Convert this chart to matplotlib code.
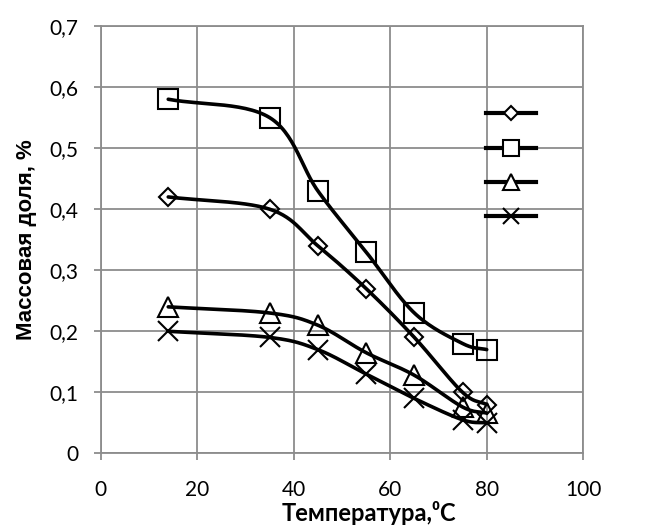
import numpy as np
import matplotlib
matplotlib.use("Agg")
import matplotlib.pyplot as plt
from matplotlib.lines import Line2D

temps = [14, 35, 45, 55, 65, 75, 80]
s_diamond = [0.42, 0.40, 0.34, 0.27, 0.19, 0.10, 0.08]
s_square = [0.58, 0.55, 0.43, 0.33, 0.23, 0.18, 0.17]
s_triangle = [0.24, 0.23, 0.21, 0.165, 0.128, 0.076, 0.066]
s_cross = [0.20, 0.19, 0.17, 0.13, 0.09, 0.055, 0.05]

x_ticks = [0, 20, 40, 60, 80, 100]
y_ticks = [0, 0.1, 0.2, 0.3, 0.4, 0.5, 0.6, 0.7]
x_label = "Температура,⁰C"
y_label = "Массовая доля, %"


def smooth(x, y, n=30):
    x = np.asarray(x, float); y = np.asarray(y, float)
    px = np.concatenate([[2 * x[0] - x[1]], x, [2 * x[-1] - x[-2]]])
    py = np.concatenate([[2 * y[0] - y[1]], y, [2 * y[-1] - y[-2]]])
    xs, ys = [], []
    t = np.linspace(0, 1, n)
    for i in range(1, len(px) - 2):
        p0, p1, p2, p3 = (np.array([px[j], py[j]]) for j in range(i - 1, i + 3))
        c1 = p1 + (p2 - p0) / 6
        c2 = p2 - (p3 - p1) / 6
        b = ((1 - t) ** 3)[:, None] * p1 + (3 * (1 - t) ** 2 * t)[:, None] * c1 \
            + (3 * (1 - t) * t ** 2)[:, None] * c2 + (t ** 3)[:, None] * p2
        xs.extend(b[:, 0]); ys.extend(b[:, 1])
    return xs, ys


fig = plt.figure(figsize=(6.59, 5.26), dpi=100)
ax = fig.add_axes([0.1528, 0.138, 0.7322, 0.8126])

series = [(s_diamond, 'D', 9), (s_square, 's', 15), (s_triangle, '^', 15), (s_cross, 'x', 14)]
handles = []
for vals, mk, ms in series:
    sx, sy = smooth(temps, vals)
    ax.plot(sx, sy, color='black', lw=2.6, zorder=3, solid_capstyle='round')
    ax.plot(temps, vals, linestyle='none', marker=mk, markersize=ms,
            markerfacecolor='none', markeredgecolor='black', markeredgewidth=1.5, zorder=4)
    handles.append(Line2D([], [], color='black', lw=3, marker=mk,
                          markersize=ms * 0.8,
                          markerfacecolor='white', markeredgecolor='black', markeredgewidth=1.5))

ax.set_xlim(0, 100)
ax.set_ylim(0, 0.7)
ax.set_xticks(x_ticks)
ax.set_yticks(y_ticks)
ax.set_xticklabels([str(v) for v in x_ticks])
ax.set_yticklabels(['0' if v == 0 else f"{v:.1f}".replace('.', ',') for v in y_ticks])
for lab in ax.get_xticklabels() + ax.get_yticklabels():
    lab.set_fontfamily(['Lato', 'DejaVu Sans'])
    lab.set_fontsize(15)

ax.grid(True, color='#8c8c8c', lw=1.3)
ax.set_axisbelow(True)
for sp in ax.spines.values():
    sp.set_color('#8c8c8c')
    sp.set_linewidth(1.3)
ax.tick_params(axis='both', direction='out', length=5, width=1.3, color='#8c8c8c')
ax.tick_params(axis='x', pad=14)
ax.tick_params(axis='y', pad=11)

ax.set_xlabel(x_label, fontsize=17, fontweight='bold', family=['Lato', 'DejaVu Sans'])
ax.xaxis.set_label_coords(0.556, -0.112)
ax.set_ylabel(y_label, fontsize=16, fontweight='bold', family=['Liberation Sans', 'DejaVu Sans'], labelpad=9)

leg = ax.legend(handles, ['', '', '', ''], loc='upper left', bbox_to_anchor=(0.781, 0.834),
                frameon=False, handlelength=3.0, labelspacing=0.97, handletextpad=0, borderpad=0,
                fontsize=12)

fig.savefig('out.png', dpi=100)
